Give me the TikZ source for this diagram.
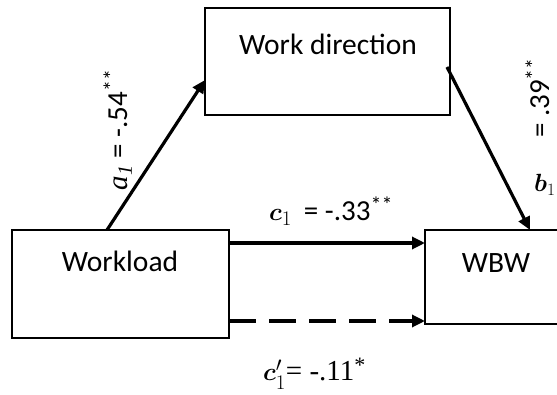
\documentclass[tikz,border=0pt]{standalone}
\usepackage{amsmath}
\usepackage{fontspec}
\setmainfont{Carlito}
\newfontfamily\serifrm{Liberation Serif}
\usetikzlibrary{arrows.meta}
\newcommand\sigstars[1]{{\fontsize{22}{22}\selectfont\raisebox{8pt}{#1}}}
\begin{document}
\begin{tikzpicture}[x=1pt,y=-1pt,
  box/.style={draw, line width=2.5pt, rectangle, inner sep=0pt, outer sep=0pt},
  txt/.style={font=\fontsize{29.5}{34}\selectfont, inner sep=0pt},
  lbl/.style={font=\fontsize{29}{34}\selectfont, inner sep=0pt},
  arr/.style={line width=3.2pt, -{Triangle[length=13pt,width=12pt]}}]
\useasboundingbox (0,0) rectangle (557,395);
\clip (0,0) rectangle (557,395);
% boxes
\node[box, minimum width=217pt, minimum height=108pt] (wl) at (120.5,284) {};
\node[box, minimum width=245pt, minimum height=107pt] (wd) at (327.5,61.5) {};
\node[box, minimum width=142pt, minimum height=94pt] (wbw) at (496,277) {};
% texts
\node[txt, anchor=base] (wdt) at (328,55) {Work direction};
\node[txt, anchor=base] (wlt) at (120,272) {Workload};
\node[txt, anchor=base] (wbwt) at (496,273) {WBW};
% connectors
\draw[arr] ([xshift=95pt]wl.north west) -- ([yshift=-72pt]wd.north west);
\draw[arr] ([xshift=-3pt,yshift=-59pt]wd.north east) -- ([xshift=105pt]wbw.north west);
\draw[arr] ([yshift=-13pt]wl.north east) -- ([yshift=-13pt]wbw.north west);
\draw[arr, dash pattern=on 27pt off 13pt] ([yshift=-91pt]wl.north east) -- ([yshift=-91pt]wbw.north west);
% labels
\node[lbl, rotate=90, anchor=base] (la) at (127,130) {{\serifrm\itshape a}\textsubscript{\serifrm\itshape 1} = -.54\sigstars{**}};
\node[lbl, rotate=90, anchor=base] (lb) at (549,98) {= .39\sigstars{**}};
\node[lbl, anchor=base west, font=\fontsize{25}{28}\selectfont] (lbb) at (534,192) {$\boldsymbol{b}_1$};
\node[lbl, anchor=base west] (lc) at (269,221) {$\boldsymbol{c}_1$\hspace{12pt}= -.33\sigstars{**}};
\node[lbl, anchor=base west] (lcp) at (263,381) {$\boldsymbol{c}'_1${\serifrm = -.11\sigstars{*}}};
\end{tikzpicture}
\end{document}
